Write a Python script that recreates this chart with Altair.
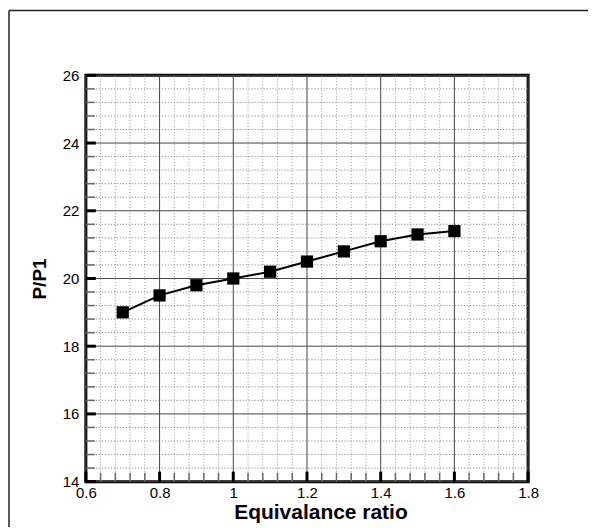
import altair as alt
import pandas as pd

# data
phi = [0.7, 0.8, 0.9, 1.0, 1.1, 1.2, 1.3, 1.4, 1.5, 1.6]
p_ratio = [19.0, 19.5, 19.8, 20.0, 20.2, 20.5, 20.8, 21.1, 21.3, 21.4]

x_major = [0.6, 0.8, 1.0, 1.2, 1.4, 1.6, 1.8]
y_major = [14, 16, 18, 20, 22, 24, 26]
x_minor = [round(0.6 + 0.04 * i, 2) for i in range(31) if i % 5 != 0]
y_minor = [round(14 + 0.4 * i, 1) for i in range(31) if i % 5 != 0]

W, H = 443, 407
FONT = "Liberation Sans"

xs = alt.Scale(domain=[0.6, 1.8], nice=False, zero=False)
ys = alt.Scale(domain=[14, 26], nice=False, zero=False)

xaxis = alt.Axis(
    values=x_major, format="~g", title="Equivalance ratio", grid=False,
    ticks=False, domain=False, labelFont=FONT, labelFontSize=15,
    labelColor="black", labelPadding=4, labelFlush=False, titleFont=FONT,
    titleFontSize=21, titleFontWeight="bold", titleColor="black",
    titlePadding=1, titleX=235)
yaxis = alt.Axis(
    values=y_major, format="d", title="P/P1", grid=False, ticks=False,
    domain=False, labelFont=FONT, labelFontSize=15, labelColor="black",
    labelPadding=7, labelFlush=False, titleFont=FONT, titleFontSize=19,
    titleFontWeight="bold", titleColor="black", titlePadding=13)

df = pd.DataFrame({"phi": phi, "p": p_ratio})
dxmin = pd.DataFrame({"phi": x_minor})
dymin = pd.DataFrame({"p": y_minor})
dxmaj = pd.DataFrame({"phi": x_major})
dymaj = pd.DataFrame({"p": y_major})
one = pd.DataFrame({"a": [0]})

X = alt.X("phi:Q", scale=xs, axis=xaxis)
Y = alt.Y("p:Q", scale=ys, axis=yaxis)

frame_v = alt.Chart(one).mark_rule(color="#222", strokeWidth=1.5).encode(
    x=alt.value(-77), y=alt.value(-65), y2=alt.value(H + 60))
frame_h = alt.Chart(one).mark_rule(color="#222", strokeWidth=1.5).encode(
    x=alt.value(-77), x2=alt.value(W + 80), y=alt.value(-65))

gx_minor = alt.Chart(dxmin).mark_rule(color="#999", strokeWidth=1, strokeDash=[1, 2]).encode(x=X)
gy_minor = alt.Chart(dymin).mark_rule(color="#777", strokeWidth=1, strokeDash=[1, 2]).encode(y=Y)
gx_major = alt.Chart(dxmaj).mark_rule(color="#444", strokeWidth=1).encode(x=X)
gy_major = alt.Chart(dymaj).mark_rule(color="#444", strokeWidth=1).encode(y=Y)

tx_minor = alt.Chart(dxmin).mark_rule(color="#666", strokeWidth=1.5).encode(
    x=X, y=alt.value(H), y2=alt.value(H - 9))
tx_major = alt.Chart(dxmaj).mark_rule(color="#000", strokeWidth=3).encode(
    x=X, y=alt.value(H), y2=alt.value(H - 10))
ty_minor = alt.Chart(dymin).mark_rule(color="#666", strokeWidth=1.5).encode(
    y=Y, x=alt.value(0), x2=alt.value(9))
ty_major = alt.Chart(dymaj).mark_rule(color="#000", strokeWidth=3).encode(
    y=Y, x=alt.value(0), x2=alt.value(10))

base = alt.Chart(df).encode(x=X, y=Y)
line = base.mark_line(color="black", strokeWidth=2)
pts = base.mark_point(shape="square", filled=True, size=150, color="black", opacity=1)

chart = alt.layer(
    frame_v, frame_h, gx_minor, gy_minor, gx_major, gy_major,
    tx_minor, tx_major, ty_minor, ty_major, line, pts
).properties(
    width=W, height=H,
    autosize=alt.AutoSizeParams(type="none"),
    padding={"left": 78, "top": 67, "right": 60, "bottom": 45},
    background="white",
).configure_view(stroke="black", strokeWidth=3)

chart.save("out.html", embed_options={"renderer": "svg", "actions": False})
